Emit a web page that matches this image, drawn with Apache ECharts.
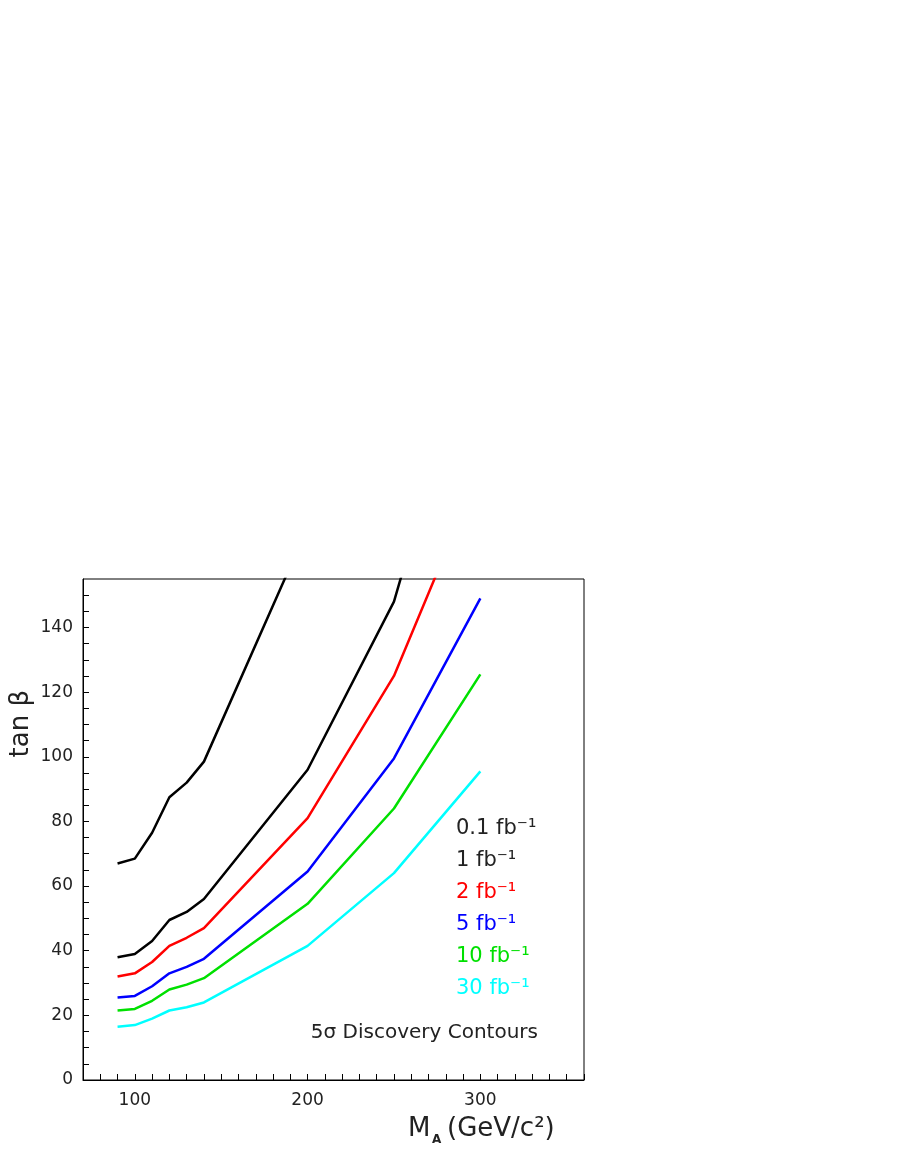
<!DOCTYPE html>
<html><head><meta charset="utf-8">
<script src="https://cdn.jsdelivr.net/npm/echarts@6/dist/echarts.min.js"></script>
<style>body{margin:0;background:#fff}#c{width:900px;height:1164px}</style>
</head><body><div id="c"></div>
<script>
var massA = [90, 100, 110, 120, 130, 140, 200, 250, 300];
var lumi01 = [67, 68.5, 76.5, 87.5, 92, 98.5, 171, null, null];
var lumi1 = [38, 39, 43, 49.5, 52, 56, 96, 148, 240];
var lumi2 = [32, 33, 36.5, 41.5, 44, 47, 81, 125, 189];
var lumi5 = [25.5, 26, 29, 33, 35, 37.5, 64.5, 99.5, 149];
var lumi10 = [21.5, 22, 24.5, 28, 29.5, 31.5, 54.5, 84, 125.5];
var lumi30 = [16.5, 17, 19, 21.5, 22.5, 24, 41.5, 64, 95.5];
var labels = ['0.1 fb⁻¹', '1 fb⁻¹', '2 fb⁻¹', '5 fb⁻¹', '10 fb⁻¹', '30 fb⁻¹'];
var colors = ['#000', '#000', '#ff0000', '#0000ff', '#00e000', '#00ffff'];
var allSeries = [lumi01, lumi1, lumi2, lumi5, lumi10, lumi30];

function pairs(v) {
    var out = [];
    for (var i = 0; i < massA.length; i++) if (v[i] != null) out.push([massA[i], v[i]]);
    return out;
}

var chart = echarts.init(document.getElementById('c'));
var font = 'DejaVu Sans';
var series = allSeries.map(function (v, i) {
    return {type: 'line', data: pairs(v), showSymbol: false, clip: true,
        lineStyle: {color: colors[i], width: 2.5}};
});
var graphics = labels.map(function (t, i) {
    return {type: 'text', left: 456, top: 818 + i * 32,
        style: {text: t, fill: colors[i] == '#000' ? '#222' : colors[i], font: '21px ' + font}};
});
graphics.push({type: 'text', right: 362, top: 1023, style: {text: '5σ Discovery Contours', fill: '#222', font: '20px ' + font}});
graphics.push({type: 'text', left: 8, top: 690, rotation: Math.PI / 2,
    style: {text: 'tan β', fill: '#222', font: '26px ' + font}});
graphics.push({type: 'text', left: 408, top: 1116, style: {text: 'M', fill: '#222', font: '26px ' + font}});
graphics.push({type: 'text', left: 432, top: 1134, style: {text: 'A', fill: '#222', font: 'bold 12px ' + font}});
graphics.push({type: 'text', left: 447, top: 1116, style: {text: '(GeV/c²)', fill: '#222', font: '26px ' + font}});

chart.setOption({
    animation: false,
    grid: {left: 83, top: 579, width: 501, height: 501, show: true, borderColor: '#000', borderWidth: 1},
    xAxis: {type: 'value', min: 70, max: 360, interval: 10,
        axisLine: {lineStyle: {color: '#000'}},
        axisTick: {inside: true, length: 6, lineStyle: {color: '#000'}},
        axisLabel: {color: '#222', fontSize: 17, fontFamily: font, margin: 12,
            formatter: function (v) { return v % 100 == 0 ? v : ''; }},
        splitLine: {show: false}},
    yAxis: {type: 'value', min: 0, max: 155, interval: 5,
        axisLine: {lineStyle: {color: '#000'}},
        axisTick: {inside: true, length: 6, lineStyle: {color: '#000'}},
        axisLabel: {color: '#222', fontSize: 17, fontFamily: font, margin: 10, showMaxLabel: false,
            formatter: function (v) { return v % 20 == 0 ? v : ''; }},
        splitLine: {show: false}},
    series: series,
    graphic: graphics
});
</script></body></html>
